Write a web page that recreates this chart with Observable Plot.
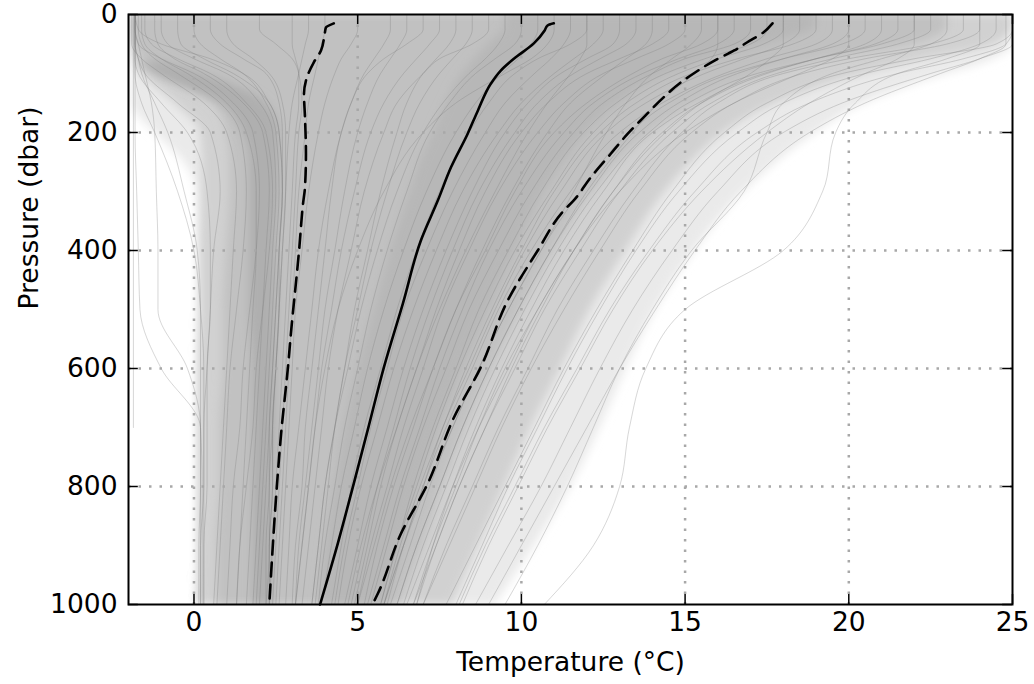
<!DOCTYPE html>
<html>
<head>
<meta charset="utf-8">
<script src="https://cdn.jsdelivr.net/npm/d3@7"></script>
<script src="https://cdn.jsdelivr.net/npm/@observablehq/plot@0.6"></script>
<style>
  html, body { margin: 0; padding: 0; background: #fff; }
  #chart svg { display: block; }
</style>
</head>
<body>
<div id="chart"></div>
<script>
// ---- Axis ticks ----
const xTicks = [0, 5, 10, 15, 20, 25];
const yTicks = [0, 200, 400, 600, 800, 1000];
const xGrid = [0, 5, 10, 15, 20];
const yGrid = [200, 400, 600, 800];

// ---- Density bands of the profile cloud ----
const bandPressure = [0, 20, 50, 80, 100, 150, 200, 250, 300, 400, 500, 600, 700, 800, 900, 1000];
const outerLeft  = [-1.9, -1.9, -1.9, -1.9, -1.9, -1.9, -1.2, -0.3, 0.1, 0.15, 0.15, 0.15, 0.15, 0.15, 0.15, 0.1];
const outerRight = [25, 25, 25, 24.2, 23, 20.5, 19, 17.8, 16.8, 15.3, 14.1, 13.2, 12.4, 11.5, 10.4, 9.2];
const midLeft    = [-1.9, -1.9, -1.9, -1.8, -1.6, -0.6, 0.2, 0.25, 0.25, 0.2, 0.2, 0.15, 0.15, 0.15, 0.15, 0.1];
const midRight   = [25, 25, 24.5, 22, 20.5, 17.8, 16.2, 15.2, 14.4, 13.2, 12.1, 11.2, 10.3, 9.5, 8.7, 7.9];
const denseLeft  = [-1.9, -1.9, -1.8, -1.5, -1.0, 0.6, 1.0, 1.1, 1.1, 1.0, 0.9, 0.9, 0.8, 0.8, 0.7, 0.7];
const denseRight = [23, 23, 22, 19, 17.6, 15.4, 14.0, 13.0, 12.2, 11.0, 10.0, 9.1, 8.3, 7.6, 7.0, 6.3];
const polarCoreLeft  = [null, null, null, -1.7, -1.2, 0.8, 1.5, 1.7, 1.7, 1.7, 1.7, 1.8, 1.8, 1.8, 1.8, 1.8];
const polarCoreRight = [null, null, null, -1.0, 0.2, 2.2, 2.6, 2.6, 2.6, 2.5, 2.5, 2.5, 2.5, 2.4, 2.4, 2.4];
const warmCoreLeft   = [9.5, 9.5, 9.0, 8.5, 8.2, 7.7, 7.3, 6.9, 6.6, 6.0, 5.5, 5.0, 4.6, 4.3, 4.0, 3.8];
const warmCoreRight  = [19, 19, 17.5, 15.5, 14.5, 13.0, 12.0, 11.3, 10.7, 9.8, 9.0, 8.2, 7.5, 6.9, 6.4, 5.9];

// ---- Representative individual profiles (temperature at profilePressure) ----
const profilePressure = [0, 25, 50, 75, 100, 150, 200, 300, 400, 500, 600, 700, 800, 900, 1000];
const profileTemps = [
  [-1.8, -1.8, -1.8, -1.7, -1.5, -0.5, 0.5, 0.8, 0.6, 0.5, 0.4, 0.3, 0.3, 0.2, 0.2],
  [-1.7, -1.7, -1.6, -1.2, -0.5, 0.8, 1.4, 1.6, 1.5, 1.3, 1.1, 1.0, 0.9, 0.8, 0.7],
  [-1.8, -1.8, -1.7, -1.0, 0.0, 1.2, 1.8, 2.0, 1.9, 1.7, 1.5, 1.4, 1.2, 1.1, 1.0],
  [-1.5, -1.5, -1.3, -0.5, 0.5, 1.6, 2.2, 2.4, 2.3, 2.1, 1.9, 1.8, 1.6, 1.4, 1.3],
  [-1.0, -1.0, -0.8, 0.0, 1.0, 2.0, 2.4, 2.5, 2.4, 2.3, 2.2, 2.1, 2.0, 1.9, 1.8],
  [-1.8, -1.8, -1.8, -1.8, -1.8, -1.6, -1.2, -0.5, 0.0, 0.2, 0.3, 0.3, 0.3, 0.3, 0.3],
  [-1.85, -1.85, -1.85, -1.85, -1.85, -1.85, -1.85, -1.85, -1.85, -1.85, -1.85, -1.85, null, null, null],
  [0.5, 0.5, 0.8, 1.5, 2.2, 2.6, 2.7, 2.7, 2.6, 2.5, 2.4, 2.3, 2.3, 2.2, 2.2],
  [2.0, 2.0, 2.5, 3.0, 3.2, 3.3, 3.2, 3.1, 3.0, 2.9, 2.8, 2.7, 2.6, 2.5, 2.4],
  [-1.8, -1.7, -1.0, 0.5, 1.5, 2.3, 2.6, 2.7, 2.6, 2.5, 2.4, 2.3, 2.2, 2.1, 2.0],
  [-1.8, -1.8, -1.8, -1.8, -1.8, -1.8, -1.8, -1.75, -1.7, -1.65, -1.0, 0.2, 0.25, 0.25, 0.25],
  [-1.8, -1.8, -1.7, -1.6, -1.5, -1.3, -1.2, -1.15, -1.1, -1.1, -0.2, 0.2, 0.2, 0.2, 0.2],
  [-1.8, -1.8, -1.8, -1.7, -1.6, -1.2, -0.8, -0.3, 0.1, 0.2, 0.2, 0.2, 0.2, 0.15, 0.15],
  [-1.6, -1.6, -1.5, -1.0, -0.2, 1.0, 1.6, 1.9, 1.9, 1.8, 1.7, 1.6, 1.5, 1.4, 1.3],
  [-1.9, -1.9, -1.9, -1.6, -1.0, 0.3, 1.0, 1.3, 1.2, 1.1, 1.0, 0.9, 0.8, 0.7, 0.6],
  [0.0, 0.0, 0.2, 0.8, 1.5, 2.2, 2.5, 2.6, 2.5, 2.4, 2.3, 2.2, 2.1, 2.0, 1.9],
  [1.0, 1.0, 1.2, 1.8, 2.3, 2.7, 2.8, 2.8, 2.7, 2.6, 2.5, 2.4, 2.4, 2.3, 2.3],
  [-1.2, -1.2, -1.1, -0.6, 0.3, 1.5, 2.1, 2.3, 2.2, 2.1, 2.0, 1.9, 1.8, 1.7, 1.6],
  [-1.8, -1.8, -1.8, -1.8, -1.7, -1.0, -0.2, 0.4, 0.5, 0.5, 0.4, 0.4, 0.4, 0.3, 0.3],
  [3.0, 3.0, 3.0, 3.1, 3.2, 3.2, 3.1, 3.0, 2.9, 2.8, 2.7, 2.6, 2.5, 2.4, 2.3],
  [4.0, 4.0, 3.9, 3.8, 3.7, 3.5, 3.4, 3.2, 3.1, 3.0, 2.9, 2.8, 2.7, 2.6, 2.5],
  [-0.5, -0.5, -0.4, 0.3, 1.2, 2.3, 2.6, 2.7, 2.6, 2.6, 2.5, 2.4, 2.4, 2.3, 2.3],
  [3.5, 3.5, 3.4, 3.3, 3.2, 3.0, 2.9, 2.8, 2.7, 2.6, 2.5, 2.4, 2.3, 2.3, 2.2],
  [5, 5, 4.8, 4.5, 4.3, 4.0, 3.8, 3.5, 3.3, 3.1, 3.0, 2.9, 2.8, 2.7, 2.6],
  [6, 6, 5.8, 5.5, 5.2, 4.8, 4.5, 4.1, 3.8, 3.6, 3.4, 3.2, 3.0, 2.9, 2.8],
  [6.5, 6.5, 6.3, 6.0, 5.7, 5.3, 5.0, 4.6, 4.3, 4.0, 3.8, 3.6, 3.4, 3.2, 3.1],
  [7, 7, 6.5, 5.8, 5.3, 4.8, 4.5, 4.2, 4.0, 3.8, 3.6, 3.4, 3.3, 3.1, 3.0],
  [7.5, 7.5, 7.2, 6.8, 6.4, 5.8, 5.4, 4.9, 4.5, 4.2, 3.9, 3.7, 3.5, 3.3, 3.1],
  [8, 8, 7.8, 7.4, 7.0, 6.5, 6.2, 5.7, 5.3, 4.9, 4.6, 4.3, 4.1, 3.9, 3.7],
  [8.5, 8.5, 8.3, 7.9, 7.5, 6.9, 6.5, 5.9, 5.4, 5.0, 4.6, 4.3, 4.0, 3.8, 3.6],
  [9, 9, 8.5, 7.5, 7.0, 6.2, 5.8, 5.2, 4.8, 4.4, 4.1, 3.9, 3.7, 3.5, 3.3],
  [9.5, 9.5, 9.3, 8.9, 8.4, 7.6, 7.0, 6.2, 5.6, 5.1, 4.7, 4.3, 4.0, 3.8, 3.6],
  [10, 10, 9.8, 9.2, 8.6, 7.8, 7.2, 6.5, 5.9, 5.4, 5.0, 4.6, 4.3, 4.0, 3.8],
  [10.5, 10.5, 10.3, 9.9, 9.4, 8.6, 8.0, 7.1, 6.4, 5.8, 5.3, 4.9, 4.5, 4.2, 3.9],
  [11, 11, 10.8, 10.3, 9.5, 8.0, 7.0, 5.8, 5.0, 4.4, 4.0, 3.7, 3.5, 3.3, 3.1],
  [11.5, 11.5, 11.3, 10.9, 10.4, 9.5, 8.9, 7.9, 7.1, 6.4, 5.9, 5.4, 5.0, 4.6, 4.3],
  [12, 12, 11.5, 10.5, 9.8, 9.0, 8.4, 7.5, 6.8, 6.2, 5.7, 5.2, 4.8, 4.5, 4.2],
  [12, 12, 12, 11.8, 11.5, 10.8, 10.2, 9.2, 8.3, 7.5, 6.8, 6.2, 5.6, 5.1, 4.7],
  [12.5, 12.5, 12.2, 11.6, 11.0, 10.0, 9.3, 8.2, 7.4, 6.7, 6.1, 5.6, 5.1, 4.7, 4.4],
  [13, 13, 12.8, 12, 11.2, 10.2, 9.5, 8.5, 7.7, 7.0, 6.4, 5.9, 5.4, 5.0, 4.6],
  [13.5, 13.5, 13.2, 12.4, 11.6, 10.5, 9.8, 8.7, 7.9, 7.2, 6.6, 6.1, 5.6, 5.2, 4.8],
  [14, 14, 13.8, 13.2, 12.6, 11.5, 10.8, 9.7, 8.8, 8.0, 7.3, 6.6, 6.0, 5.5, 5.0],
  [14.5, 14.5, 14.0, 13.0, 12.0, 10.8, 10.0, 8.9, 8.1, 7.4, 6.8, 6.2, 5.7, 5.3, 4.9],
  [15, 15, 14.5, 13.5, 12.5, 11.3, 10.5, 9.3, 8.4, 7.6, 7.0, 6.4, 5.9, 5.4, 5.0],
  [15.5, 15.5, 15.2, 14.6, 14.0, 13.2, 12.6, 11.6, 10.6, 9.6, 8.7, 7.9, 7.1, 6.4, 5.8],
  [16, 16, 15.5, 14.3, 13.4, 12.0, 11.0, 9.8, 8.9, 8.0, 7.3, 6.7, 6.1, 5.6, 5.2],
  [16, 16, 16, 15.8, 15.3, 14.2, 13.4, 12.0, 10.9, 9.9, 9.0, 8.2, 7.5, 6.8, 6.2],
  [16.5, 16.5, 16.0, 14.8, 13.7, 12.2, 11.3, 10.0, 9.0, 8.2, 7.5, 6.9, 6.3, 5.8, 5.3],
  [17, 17, 16.5, 15.0, 14.0, 12.5, 11.6, 10.3, 9.3, 8.4, 7.7, 7.0, 6.4, 5.9, 5.4],
  [17.5, 17.5, 17.0, 15.6, 14.4, 12.9, 11.9, 10.6, 9.6, 8.7, 8.0, 7.3, 6.7, 6.2, 5.7],
  [18, 18, 17.4, 16.0, 14.8, 13.2, 12.2, 10.9, 9.8, 8.9, 8.1, 7.4, 6.8, 6.2, 5.7],
  [18, 18, 18, 17.6, 17.0, 15.5, 14.4, 12.8, 11.6, 10.6, 9.7, 8.9, 8.1, 7.4, 6.8],
  [18.5, 18.5, 18, 16.8, 15.6, 13.8, 12.6, 11.2, 10.1, 9.2, 8.4, 7.6, 7.0, 6.4, 5.8],
  [19, 19, 18.3, 16.6, 15.2, 13.5, 12.4, 11.0, 10.0, 9.1, 8.3, 7.6, 6.9, 6.3, 5.8],
  [19.5, 19.5, 19, 17.5, 16.2, 14.3, 13.0, 11.5, 10.3, 9.3, 8.5, 7.7, 7.0, 6.4, 5.9],
  [20, 20, 19.5, 18, 16.6, 14.8, 13.6, 12.1, 10.9, 9.9, 9.0, 8.2, 7.5, 6.8, 6.2],
  [20, 20, 20, 19.5, 18.5, 16.5, 15.0, 13.0, 11.6, 10.5, 9.5, 8.7, 8.0, 7.3, 6.7],
  [20.5, 20.5, 19.8, 18.0, 16.4, 14.5, 13.3, 11.8, 10.6, 9.6, 8.7, 7.9, 7.2, 6.6, 6.0],
  [21, 21, 20.5, 19, 17.4, 15.4, 14.0, 12.5, 11.3, 10.3, 9.4, 8.6, 7.9, 7.3, 6.8],
  [21.5, 21.5, 20.8, 19.0, 17.2, 15.1, 13.9, 12.3, 11.1, 10.1, 9.2, 8.4, 7.7, 7.0, 6.4],
  [22, 22, 21, 19, 17.5, 15.5, 14.3, 12.8, 11.6, 10.5, 9.6, 8.7, 7.9, 7.2, 6.5],
  [22, 22, 22, 21.5, 20.5, 18.8, 17.5, 15.5, 14.0, 12.8, 11.8, 10.8, 9.9, 9.0, 8.2],
  [22.5, 22.5, 21.5, 19.5, 17.8, 15.8, 14.6, 13.0, 11.8, 10.7, 9.8, 8.9, 8.1, 7.4, 6.7],
  [23, 23, 22.5, 21, 19.5, 18, 17.5, 16.8, 15.2, 14.0, 13.0, 12.2, 11.4, 10.5, 9.5],
  [23.5, 23.5, 22.5, 20.0, 18.0, 16.0, 14.9, 13.4, 12.2, 11.1, 10.2, 9.3, 8.5, 7.7, 7.0],
  [24, 24, 23, 20.5, 18.6, 16.5, 15.2, 13.6, 12.4, 11.3, 10.3, 9.4, 8.6, 7.8, 7.0],
  [24, 24, 24, 23, 21.5, 20.2, 19.6, 19.2, 18.0, 15.0, 13.8, 13.3, 13.0, 12.2, 10.7],
  [24.5, 24.5, 24.0, 22.5, 20.5, 18.0, 16.6, 14.8, 13.5, 12.4, 11.4, 10.5, 9.6, 8.8, 8.0],
  [24.8, 24.8, 24.8, 24.0, 22.8, 20.5, 18.8, 16.7, 15.3, 14.1, 13.0, 12.0, 11.0, 10.0, 9.0],
  [25, 25, 24.5, 22, 19.8, 17.5, 16.2, 14.6, 13.4, 12.3, 11.3, 10.4, 9.5, 8.6, 7.7],
  [25, 25, 24.8, 23.5, 21.5, 18.8, 17.2, 15.3, 13.9, 12.7, 11.7, 10.7, 9.8, 8.9, 8.1],
  [25, 25, 25, 24, 22.5, 19.8, 18, 16.0, 14.6, 13.4, 12.4, 11.5, 10.6, 9.6, 8.6]
];

// ---- Mean profile and mean ± standard deviation ----
const meanPressure = [15, 18.6, 27, 49, 75, 95, 117, 163, 202, 259, 315, 383, 490, 598, 697, 795, 895, 1000];
const meanTemp     = [10.99, 10.8, 10.71, 10.38, 9.77, 9.37, 9.07, 8.67, 8.36, 7.85, 7.45, 6.93, 6.38, 5.8, 5.34, 4.88, 4.4, 3.85];
const lowPressure  = [15, 22, 30, 61, 81, 112, 134, 174, 236, 293, 321, 400, 541, 598, 711, 824, 1000];
const lowTemp      = [4.27, 4.03, 4.0, 3.88, 3.66, 3.42, 3.36, 3.39, 3.42, 3.39, 3.33, 3.21, 2.96, 2.87, 2.66, 2.5, 2.3];
const highPressure = [15, 30, 47, 61, 78, 100, 115, 140, 174, 202, 236, 276, 315, 332, 400, 485, 598, 683, 795, 880, 981, 1000];
const highTemp     = [17.67, 17.4, 16.9, 16.5, 15.9, 15.26, 14.87, 14.35, 13.74, 13.25, 12.73, 12.12, 11.6, 11.3, 10.5, 9.58, 8.76, 7.94, 7.14, 6.32, 5.62, 5.45];

// ---- Build tables ----
const bands = bandPressure.map((p, i) => ({
  p,
  oL: outerLeft[i], oR: outerRight[i],
  mL: midLeft[i], mR: midRight[i],
  dL: denseLeft[i], dR: denseRight[i],
  pL: polarCoreLeft[i], pR: polarCoreRight[i],
  wL: warmCoreLeft[i], wR: warmCoreRight[i]
}));
const profileRows = [];
profileTemps.forEach((temps, id) => {
  temps.forEach((t, j) => profileRows.push({id, p: profilePressure[j], t}));
});
const meanRows = meanPressure.map((p, i) => ({p, t: meanTemp[i]}));
const lowRows = lowPressure.map((p, i) => ({p, t: lowTemp[i]}));
const highRows = highPressure.map((p, i) => ({p, t: highTemp[i]}));

const font = "'DejaVu Sans', sans-serif";
const curve = "monotone-y";
const fs = 26.5;
const bandOpts = {y: "p", curve, ariaDescription: "band"};

const chart = Plot.plot({
  width: 1034,
  height: 684,
  marginLeft: 128,
  marginRight: 22,
  marginTop: 14,
  marginBottom: 80,
  style: {fontFamily: font, fontSize: fs + "px", color: "black", background: "white", overflow: "visible"},
  x: {domain: [-2, 25], ticks: xTicks, label: null},
  y: {domain: [0, 1000], reverse: true, ticks: yTicks, label: null, tickFormat: d3.format("d")},
  marks: [
    Plot.areaX(bands, {...bandOpts, x1: "oL", x2: "oR", fill: "#eaeaea"}),
    Plot.areaX(bands, {...bandOpts, x1: "mL", x2: "mR", fill: "#d1d1d1"}),
    Plot.areaX(bands, {...bandOpts, x1: "dL", x2: "dR", fill: "#c1c1c1"}),
    Plot.areaX(bands, {...bandOpts, x1: "pL", x2: "pR", fill: "#afafaf"}),
    Plot.areaX(bands, {...bandOpts, x1: "wL", x2: "wR", fill: "#b7b7b7"}),
    Plot.line(profileRows, {x: "t", y: "p", z: "id", stroke: "#7a7a7a", strokeOpacity: 0.3, strokeWidth: 1, curve}),
    Plot.ruleX(xGrid, {stroke: "#a8a8a8", strokeWidth: 2.5, strokeDasharray: "2.5,8"}),
    Plot.ruleY(yGrid, {stroke: "#a8a8a8", strokeWidth: 2.5, strokeDasharray: "2.5,8"}),
    Plot.line(meanRows, {x: "t", y: "p", stroke: "black", strokeWidth: 2.6, curve}),
    Plot.line(lowRows, {x: "t", y: "p", stroke: "black", strokeWidth: 2.6, strokeDasharray: "14,8", curve}),
    Plot.line(highRows, {x: "t", y: "p", stroke: "black", strokeWidth: 2.6, strokeDasharray: "14,8", curve}),
    // inward ticks
    Plot.ruleX(xTicks, {y1: 1000, y2: 983, stroke: "black", strokeWidth: 1.5}),
    Plot.ruleX(xTicks, {y1: 0, y2: 17, stroke: "black", strokeWidth: 1.5}),
    Plot.ruleY(yTicks, {x1: -2, x2: -1.7, stroke: "black", strokeWidth: 1.5}),
    Plot.ruleY(yTicks, {x1: 25, x2: 24.7, stroke: "black", strokeWidth: 1.5}),
    Plot.frame({stroke: "black", strokeWidth: 2}),
    Plot.axisX({ticks: xTicks, tickSize: 0, tickPadding: 8, label: null, fontSize: fs}),
    Plot.axisY({ticks: yTicks, tickSize: 0, tickPadding: 11, label: null, fontSize: fs, tickFormat: d3.format("d")}),
    Plot.text(["Temperature (°C)"], {frameAnchor: "bottom", text: d => d, dy: 58, lineAnchor: "middle", fontSize: fs}),
    Plot.text(["Pressure (dbar)"], {frameAnchor: "left", text: d => d, dx: -99, rotate: -90, lineAnchor: "middle", fontSize: fs})
  ]
});

// soften the density band edges: blur each band, then clip the group to the frame
const NS = "http://www.w3.org/2000/svg";
const defs = document.createElementNS(NS, "defs");
defs.innerHTML = `
  <filter id="softBand" filterUnits="userSpaceOnUse" x="0" y="0" width="1034" height="684">
    <feGaussianBlur stdDeviation="5"/>
  </filter>
  <clipPath id="frameClip"><rect x="128" y="14" width="884" height="590"/></clipPath>`;
chart.insertBefore(defs, chart.firstChild);
const bandGroups = Array.from(chart.querySelectorAll('[aria-description="band"]'));
if (bandGroups.length) {
  const holder = document.createElementNS(NS, "g");
  holder.setAttribute("clip-path", "url(#frameClip)");
  bandGroups[0].parentNode.insertBefore(holder, bandGroups[0]);
  bandGroups.forEach(g => { g.setAttribute("filter", "url(#softBand)"); holder.appendChild(g); });
}
document.getElementById("chart").append(chart);
</script>
</body>
</html>
